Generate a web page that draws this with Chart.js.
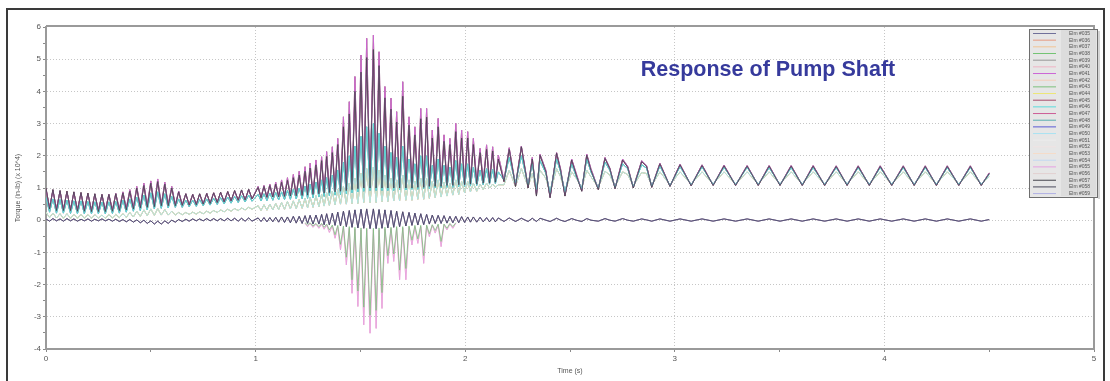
<!DOCTYPE html>
<html>
<head>
<meta charset="utf-8">
<script src="https://cdn.jsdelivr.net/npm/chart.js@4.4.1/dist/chart.umd.min.js"></script>
<style>
    html, body { margin: 0; padding: 0; background: #fff; }
</style>
</head>
<body>
<canvas id="torque-chart" width="1110" height="381"></canvas>
<script>
// time stamps (s) of the turning points of the traces
const upperT = [
    0, .017, .033, .05, .067, .083, .1, .117, .133, .15,
    .167, .183, .2, .217, .233, .25, .267, .283, .3, .317,
    .333, .35, .367, .383, .4, .417, .433, .45, .467, .483,
    .5, .517, .533, .55, .567, .583, .6, .617, .633, .65,
    .667, .683, .7, .717, .733, .75, .767, .783, .8, .817,
    .833, .85, .867, .883, .9, .917, .933, .95, .967, .983,
    1.012, 1.026, 1.04, 1.054, 1.068, 1.082, 1.096, 1.11, 1.124, 1.138,
    1.152, 1.166, 1.18, 1.194, 1.208, 1.222, 1.236, 1.248, 1.26, 1.274,
    1.288, 1.302, 1.315, 1.327, 1.339, 1.352, 1.366, 1.379, 1.392, 1.405,
    1.419, 1.433, 1.447, 1.46, 1.474, 1.488, 1.503, 1.516, 1.53, 1.546,
    1.562, 1.575, 1.589, 1.603, 1.617, 1.631, 1.646, 1.659, 1.673, 1.687,
    1.702, 1.717, 1.732, 1.746, 1.76, 1.774, 1.788, 1.802, 1.816, 1.829,
    1.843, 1.857, 1.871, 1.885, 1.899, 1.913, 1.927, 1.941, 1.955, 1.969,
    1.983, 1.997, 2.012, 2.025, 2.039, 2.055, 2.071, 2.086, 2.102, 2.116,
    2.131, 2.144, 2.158, 2.185, 2.21, 2.24, 2.268, 2.3, 2.32, 2.34,
    2.357, 2.385, 2.405, 2.436, 2.455, 2.476, 2.508, 2.53, 2.556, 2.58,
    2.6, 2.635, 2.667, 2.69, 2.715, 2.751, 2.775, 2.802, 2.842, 2.865,
    2.89, 2.929, 2.977, 3.025, 3.078, 3.13, 3.183, 3.235, 3.29, 3.345,
    3.398, 3.45, 3.502, 3.555, 3.608, 3.66, 3.715, 3.77, 3.822, 3.875,
    3.928, 3.98, 4.035, 4.09, 4.142, 4.195, 4.248, 4.3, 4.355, 4.41,
    4.462, 4.5
];

// torque (x 10^4 in-lb), one value per time stamp above
const blackTq = [
    1.00, .35, .95, .30, .92, .30, .90, .30, .88, .28,
    .86, .28, .84, .27, .82, .27, .80, .27, .80, .28,
    .82, .30, .85, .32, .90, .35, 1.00, .38, 1.08, .40,
    1.15, .42, 1.20, .45, 1.12, .45, 1.00, .45, .88, .46,
    .82, .47, .80, .48, .82, .50, .83, .52, .85, .55,
    .87, .57, .89, .60, .92, .62, .94, .63, .96, .66,
    1.02, .70, 1.05, .71, 1.08, .72, 1.12, .73, 1.18, .74,
    1.24, .75, 1.32, .76, 1.40, .77, 1.52, .78, 1.62, .80,
    1.72, .82, 1.85, .84, 1.98, .86, 2.10, .88, 2.35, .90,
    2.90, .92, 3.30, .95, 4.00, .98, 4.60, 1.00, 5.05, 1.00,
    5.30, 1.00, 4.80, 1.00, 3.80, 1.00, 3.45, 1.00, 3.05, 1.00,
    3.85, 1.00, 2.95, 1.00, 2.65, 1.02, 3.15, 1.02, 3.20, 1.05,
    2.55, 1.05, 2.90, 1.05, 2.45, 1.08, 2.35, 1.08, 2.75, 1.10,
    2.55, 1.10, 2.55, 1.12, 2.35, 1.12, 2.10, 1.15, 2.20, 1.15,
    2.15, 1.18, 1.90, 1.20, 2.20, 1.05, 2.28, 1.00, 1.90, .75,
    2.02, 1.50, .70, 2.08, 1.55, .75, 1.87, 1.40, .90, 2.02,
    1.55, .95, 1.92, 1.60, .98, 1.87, 1.65, 1.00, 1.82, 1.68,
    1.02, 1.75, 1.05, 1.72, 1.07, 1.70, 1.08, 1.69, 1.08, 1.68,
    1.08, 1.68, 1.08, 1.68, 1.08, 1.68, 1.08, 1.67, 1.08, 1.67,
    1.08, 1.67, 1.08, 1.67, 1.08, 1.67, 1.08, 1.67, 1.08, 1.67,
    1.08, 1.45
];

const pinkTq = [
    .95, .40, .92, .36, .90, .35, .88, .34, .86, .33,
    .84, .33, .82, .32, .80, .32, .79, .32, .80, .33,
    .83, .35, .88, .37, .95, .40, 1.05, .42, 1.15, .44,
    1.22, .46, 1.28, .48, 1.18, .48, 1.05, .48, .90, .48,
    .82, .49, .80, .50, .81, .52, .83, .54, .85, .56,
    .86, .58, .88, .60, .90, .62, .93, .64, .95, .66,
    1.05, .72, 1.08, .73, 1.12, .74, 1.18, .75, 1.25, .76,
    1.32, .77, 1.42, .78, 1.52, .79, 1.66, .80, 1.77, .82,
    1.87, .84, 1.97, .86, 2.13, .88, 2.28, .90, 2.54, .92,
    3.21, .95, 3.68, .98, 4.46, 1.00, 5.13, 1.02, 5.65, 1.05,
    5.75, 1.05, 5.23, 1.05, 4.15, 1.05, 3.79, 1.05, 3.37, 1.05,
    4.30, 1.05, 3.21, 1.05, 2.90, 1.05, 3.47, 1.08, 3.47, 1.08,
    2.80, 1.10, 3.16, 1.10, 2.65, 1.12, 2.54, 1.12, 3.01, 1.15,
    2.80, 1.15, 2.75, 1.18, 2.54, 1.18, 2.23, 1.20, 2.34, 1.20,
    2.28, 1.22, 2.02, 1.25, 2.25, 1.10, 2.30, 1.05, 1.95, .80,
    2.05, 1.55, .72, 2.10, 1.60, .78, 1.90, 1.45, .92, 2.05,
    1.60, .97, 1.95, 1.62, 1.00, 1.90, 1.68, 1.02, 1.85, 1.70,
    1.04, 1.77, 1.06, 1.74, 1.08, 1.72, 1.09, 1.71, 1.09, 1.70,
    1.09, 1.70, 1.09, 1.70, 1.09, 1.70, 1.09, 1.69, 1.09, 1.69,
    1.09, 1.69, 1.09, 1.69, 1.09, 1.69, 1.09, 1.69, 1.09, 1.69,
    1.09, 1.47
];

const cyanTq = [
    .70, .25, .66, .22, .64, .22, .62, .21, .60, .20,
    .60, .20, .58, .20, .57, .20, .56, .20, .57, .21,
    .58, .22, .62, .25, .66, .28, .72, .30, .78, .32,
    .85, .35, .88, .37, .82, .38, .74, .40, .66, .40,
    .62, .42, .62, .43, .64, .45, .66, .47, .68, .49,
    .70, .51, .72, .53, .74, .55, .76, .57, .78, .59,
    .80, .60, .82, .61, .84, .62, .86, .63, .88, .64,
    .92, .65, .96, .66, 1.00, .67, 1.06, .68, 1.12, .70,
    1.18, .72, 1.25, .74, 1.32, .76, 1.40, .78, 1.55, .80,
    1.80, .82, 2.00, .85, 2.30, .88, 2.60, .90, 2.90, .92,
    3.00, .92, 2.70, .92, 2.30, .92, 2.10, .92, 1.95, .94,
    2.30, .94, 1.90, .96, 1.75, .96, 2.00, .98, 2.00, .98,
    1.70, 1.00, 1.90, 1.00, 1.70, 1.02, 1.65, 1.02, 1.85, 1.04,
    1.75, 1.05, 1.75, 1.06, 1.65, 1.08, 1.55, 1.10, 1.60, 1.12,
    1.58, 1.14, 1.50, 1.25, 1.95, 1.15, 2.00, 1.10, 1.75, .95,
    1.85, 1.45, .85, 1.90, 1.50, .88, 1.75, 1.35, .98, 1.90,
    1.50, 1.00, 1.80, 1.55, 1.02, 1.75, 1.60, 1.04, 1.72, 1.62,
    1.06, 1.68, 1.08, 1.66, 1.10, 1.65, 1.11, 1.64, 1.11, 1.64,
    1.11, 1.63, 1.11, 1.63, 1.11, 1.63, 1.11, 1.63, 1.11, 1.63,
    1.11, 1.63, 1.11, 1.63, 1.11, 1.63, 1.11, 1.63, 1.11, 1.63,
    1.11, 1.42
];

const midTq = [
    .25, .08, .22, .07, .20, .06, .20, .06, .18, .06,
    .18, .06, .17, .06, .17, .06, .16, .06, .17, .07,
    .18, .08, .20, .09, .24, .10, .28, .12, .32, .14,
    .35, .15, .36, .16, .33, .16, .28, .16, .24, .17,
    .24, .18, .25, .19, .26, .20, .28, .22, .30, .24,
    .32, .26, .34, .28, .36, .30, .38, .32, .40, .34,
    .45, .30, .48, .31, .50, .32, .52, .33, .55, .34,
    .58, .35, .60, .36, .64, .37, .68, .38, .72, .40,
    .76, .42, .80, .44, .85, .46, .90, .48, .95, .50,
    1.05, .50, 1.15, .52, 1.30, .52, 1.45, .55, 1.60, .55,
    1.65, .55, 1.55, .58, 1.40, .58, 1.30, .60, 1.25, .60,
    1.40, .62, 1.25, .62, 1.20, .65, 1.30, .65, 1.30, .68,
    1.20, .70, 1.25, .72, 1.18, .75, 1.15, .78, 1.25, .80,
    1.20, .85, 1.20, .88, 1.15, .90, 1.12, .95, 1.15, 1.00,
    1.12, 1.02, 1.10, 1.10, 1.55, 1.05, 1.60, 1.05, 1.45, .90,
    1.55, 1.30, .85, 1.60, 1.35, .90, 1.50, 1.30, 1.00, 1.55,
    1.35, 1.02, 1.52, 1.40, 1.05, 1.50, 1.42, 1.07, 1.48, 1.45,
    1.08, 1.50, 1.10, 1.50, 1.12, 1.50, 1.12, 1.50, 1.12, 1.50,
    1.12, 1.50, 1.12, 1.50, 1.12, 1.50, 1.12, 1.50, 1.12, 1.50,
    1.12, 1.50, 1.12, 1.50, 1.12, 1.50, 1.12, 1.50, 1.12, 1.50,
    1.12, 1.35
];

const zeroTq = [
    .04, -.03, .05, -.02, .04, -.03, .05, -.02, .04, -.03,
    .03, -.02, .04, -.03, .03, -.02, .04, -.02, .03, -.03,
    .03, -.04, .02, -.05, .02, -.06, .01, -.08, .00, -.10,
    -.02, -.12, -.03, -.12, -.02, -.10, .00, -.06, .02, -.04,
    .03, -.03, .04, -.02, .04, -.02, .05, -.02, .05, -.02,
    .05, -.02, .06, -.02, .06, -.03, .06, -.03, .07, -.03,
    .07, -.04, .08, -.05, .08, -.05, .09, -.06, .10, -.07,
    .10, -.08, .12, -.09, .12, -.10, .14, -.10, .15, -.12,
    .16, -.12, .18, -.14, .20, -.15, .22, -.16, .25, -.18,
    .28, -.20, .30, -.22, .32, -.24, .34, -.25, .35, -.26,
    .35, -.26, .33, -.25, .32, -.24, .30, -.22, .28, -.20,
    .26, -.18, .24, -.16, .22, -.15, .20, -.14, .18, -.12,
    .16, -.10, .15, -.10, .14, -.09, .12, -.08, .12, -.08,
    .11, -.07, .10, -.06, .10, -.06, .09, -.05, .08, -.05,
    .08, -.05, .07, -.04, .07, -.04, .06, -.04, .06, -.04,
    .06, .00, -.04, .06, .00, -.04, .05, .00, -.04, .05,
    .00, -.03, .05, .00, -.03, .05, .00, -.03, .04, .01,
    -.03, .04, -.03, .04, -.03, .04, -.03, .04, -.03, .04,
    -.03, .04, -.03, .04, -.03, .04, -.03, .04, -.03, .04,
    -.03, .04, -.03, .04, -.03, .04, -.03, .04, -.03, .04,
    -.03, .02
];

// negative swings around the peak of the response
const negT = [
    1.236, 1.248, 1.26, 1.274, 1.288, 1.302, 1.315, 1.327, 1.339, 1.352,
    1.366, 1.379, 1.392, 1.405, 1.419, 1.433, 1.447, 1.46, 1.474, 1.488,
    1.503, 1.516, 1.53, 1.546, 1.562, 1.575, 1.589, 1.603, 1.617, 1.631,
    1.646, 1.659, 1.673, 1.687, 1.702, 1.717, 1.732, 1.746, 1.76, 1.774,
    1.788, 1.802, 1.816, 1.829, 1.843, 1.857, 1.871, 1.885, 1.899, 1.913,
    1.927, 1.941, 1.955
];

const negPink = [
    -.10, -.20, -.10, -.22, -.12, -.25, -.12, -.28, -.15, -.38,
    -.18, -.56, -.20, -.92, -.22, -1.39, -.25, -2.27, -.28, -2.68,
    -.30, -3.25, -.30, -3.51, -.30, -3.36, -.30, -2.74, -.28, -1.34,
    -.26, -1.28, -.25, -1.85, -.24, -1.85, -.22, -.77, -.20, -.72,
    -.20, -1.34, -.18, -.51, -.16, -.40, -.15, -.82, -.14, -.30,
    -.12, -.25, -.10
];

const negGreen = [
    -.08, -.15, -.08, -.18, -.10, -.20, -.10, -.22, -.12, -.30,
    -.15, -.45, -.16, -.75, -.18, -1.15, -.20, -1.85, -.22, -2.20,
    -.24, -2.70, -.25, -2.95, -.25, -2.80, -.24, -2.25, -.22, -1.10,
    -.22, -1.05, -.20, -1.55, -.20, -1.50, -.18, -.62, -.16, -.58,
    -.16, -1.10, -.15, -.42, -.14, -.32, -.12, -.66, -.12, -.25,
    -.10, -.20, -.08
];

const elmLabels = [
    'Elm #035', 'Elm #036', 'Elm #037', 'Elm #038', 'Elm #039',
    'Elm #040', 'Elm #041', 'Elm #042', 'Elm #043', 'Elm #044',
    'Elm #045', 'Elm #046', 'Elm #047', 'Elm #048', 'Elm #049',
    'Elm #050', 'Elm #051', 'Elm #052', 'Elm #053', 'Elm #054',
    'Elm #055', 'Elm #056', 'Elm #057', 'Elm #058', 'Elm #059'
];

const elmColors = [
    '#70709a', '#e69a80', '#f2c494', '#74c474', '#969696',
    '#f0b4c6', '#cc66d6', '#f5cdb8', '#7cc07c', '#ece676',
    '#a84c6c', '#5cdcdc', '#cc5c96', '#5aaeae', '#5a5ad4',
    '#a8e2f2', '#ececec', '#f0e2e2', '#f6dcc8', '#c2d8f2',
    '#e6a0e2', '#e2d0d0', '#44444c', '#4a4a5c', '#b0b0e4'
];

// which trace each element follows, and its drawing order (low = on top)
const elmSource = [
    [upperT, blackTq], [upperT, midTq], [upperT, zeroTq], [upperT, pinkTq], [upperT, cyanTq],
    [negT, negPink], [upperT, pinkTq], [upperT, midTq], [negT, negGreen], [upperT, midTq],
    [upperT, blackTq], [upperT, cyanTq], [upperT, pinkTq], [upperT, cyanTq], [upperT, zeroTq],
    [upperT, midTq], [upperT, midTq], [upperT, zeroTq], [upperT, midTq], [upperT, midTq],
    [negT, negPink], [upperT, zeroTq], [upperT, blackTq], [upperT, zeroTq], [upperT, cyanTq]
];
const elmOrder = [6, 20, 22, 9, 12, 15, 4, 21, 3, 18, 5, 2, 7, 10, 8, 17, 24, 25, 23, 19, 11, 26, 1, 1, 13];

function toPoints(times, values) {
    return times.map((t, i) => ({ x: t, y: values[i] }));
}

const datasets = elmLabels.map((label, i) => ({
    label: label,
    data: toPoints(elmSource[i][0], elmSource[i][1]),
    borderColor: elmColors[i],
    borderWidth: 0.8,
    pointRadius: 0,
    tension: 0,
    order: elmOrder[i]
}));

const isWhole = v => Math.abs(v - Math.round(v)) < 1e-6;

// frame, plot box top/right edges and chart title
const framePlugin = {
    id: 'framePlugin',
    afterDraw(chart) {
        const ctx = chart.ctx;
        const area = chart.chartArea;
        ctx.save();
        ctx.strokeStyle = '#9a9a9a';
        ctx.lineWidth = 2;
        ctx.beginPath();
        ctx.moveTo(area.left, area.top - 1);
        ctx.lineTo(area.right, area.top - 1);
        ctx.lineTo(area.right, area.bottom);
        ctx.stroke();

        ctx.strokeStyle = '#3a3a3a';
        ctx.lineWidth = 2;
        ctx.beginPath();
        ctx.moveTo(7, 381);
        ctx.lineTo(7, 9);
        ctx.lineTo(1104, 9);
        ctx.lineTo(1104, 381);
        ctx.stroke();

        ctx.fillStyle = '#363a9c';
        ctx.font = 'bold 21.5px "Liberation Sans", Arial, sans-serif';
        ctx.textAlign = 'center';
        ctx.textBaseline = 'middle';
        ctx.fillText('Response of Pump Shaft', 768, 70);
        ctx.restore();
    }
};

// the small boxed legend at the upper right
const legendPlugin = {
    id: 'legendPlugin',
    afterDraw(chart) {
        const ctx = chart.ctx;
        const x0 = 1029, y0 = 29, w = 68, h = 168;
        ctx.save();
        ctx.fillStyle = '#e6e6e6';
        ctx.fillRect(x0, y0, w, h);
        ctx.fillStyle = '#dcdcdc';
        ctx.fillRect(x0 + 32, y0 + 1, w - 33, h - 2);
        ctx.strokeStyle = '#6e6e6e';
        ctx.lineWidth = 1;
        ctx.strokeRect(x0 + 0.5, y0 + 0.5, w, h);
        ctx.strokeStyle = '#aaaaaa';
        ctx.beginPath();
        ctx.moveTo(x0 + w + 2, y0 + 2);
        ctx.lineTo(x0 + w + 2, y0 + h + 2);
        ctx.stroke();
        ctx.font = '5px "Liberation Sans", Arial, sans-serif';
        ctx.textBaseline = 'middle';
        ctx.textAlign = 'left';
        chart.data.datasets.forEach((ds, i) => {
            const y = y0 + 4.5 + i * 6.67;
            ctx.strokeStyle = ds.borderColor;
            ctx.beginPath();
            ctx.moveTo(x0 + 4, y);
            ctx.lineTo(x0 + 27, y);
            ctx.stroke();
            ctx.fillStyle = '#555';
            ctx.fillText(ds.label, x0 + 40, y);
        });
        ctx.restore();
    }
};

const tickFont = { family: '"Liberation Sans", Arial, sans-serif', size: 8 };

new Chart(document.getElementById('torque-chart').getContext('2d'), {
    type: 'line',
    data: { datasets: datasets },
    options: {
        responsive: false,
        animation: false,
        events: [],
        layout: { padding: { left: 0, right: 16, top: 27, bottom: 0 } },
        plugins: {
            legend: { display: false },
            tooltip: { enabled: false }
        },
        scales: {
            x: {
                type: 'linear',
                min: 0,
                max: 5,
                afterFit: s => { s.height = 32; },
                ticks: {
                    stepSize: 0.5,
                    autoSkip: false,
                    maxRotation: 0,
                    padding: 2,
                    color: '#555',
                    font: tickFont,
                    callback: v => isWhole(v) ? String(Math.round(v)) : ''
                },
                grid: {
                    color: c => (isWhole(c.tick.value) && c.tick.value > 0 && c.tick.value < 5) ? '#c6c6c6' : 'rgba(0,0,0,0)',
                    tickColor: '#8a8a8a',
                    tickLength: 3
                },
                border: { color: '#9a9a9a', width: 2, dash: [1, 2] },
                title: {
                    display: true,
                    text: 'Time (s)',
                    color: '#555',
                    font: { family: '"Liberation Sans", Arial, sans-serif', size: 7 },
                    padding: { top: 0, bottom: 6 }
                }
            },
            y: {
                min: -4,
                max: 6,
                afterFit: s => { s.width = 46; },
                ticks: {
                    stepSize: 0.5,
                    autoSkip: false,
                    padding: 2,
                    color: '#555',
                    font: tickFont,
                    callback: v => isWhole(v) ? String(Math.round(v)) : ''
                },
                grid: {
                    color: c => (isWhole(c.tick.value) && c.tick.value > -4 && c.tick.value < 6) ? '#c6c6c6' : 'rgba(0,0,0,0)',
                    tickColor: '#8a8a8a',
                    tickLength: 3
                },
                border: { color: '#9a9a9a', width: 2, dash: [1, 2] },
                title: {
                    display: true,
                    text: 'Torque (in-lb) (x 10^4)',
                    color: '#555',
                    font: { family: '"Liberation Sans", Arial, sans-serif', size: 7 },
                    padding: { top: 14, bottom: 0 }
                }
            }
        }
    },
    plugins: [framePlugin, legendPlugin]
});
</script>
</body>
</html>
